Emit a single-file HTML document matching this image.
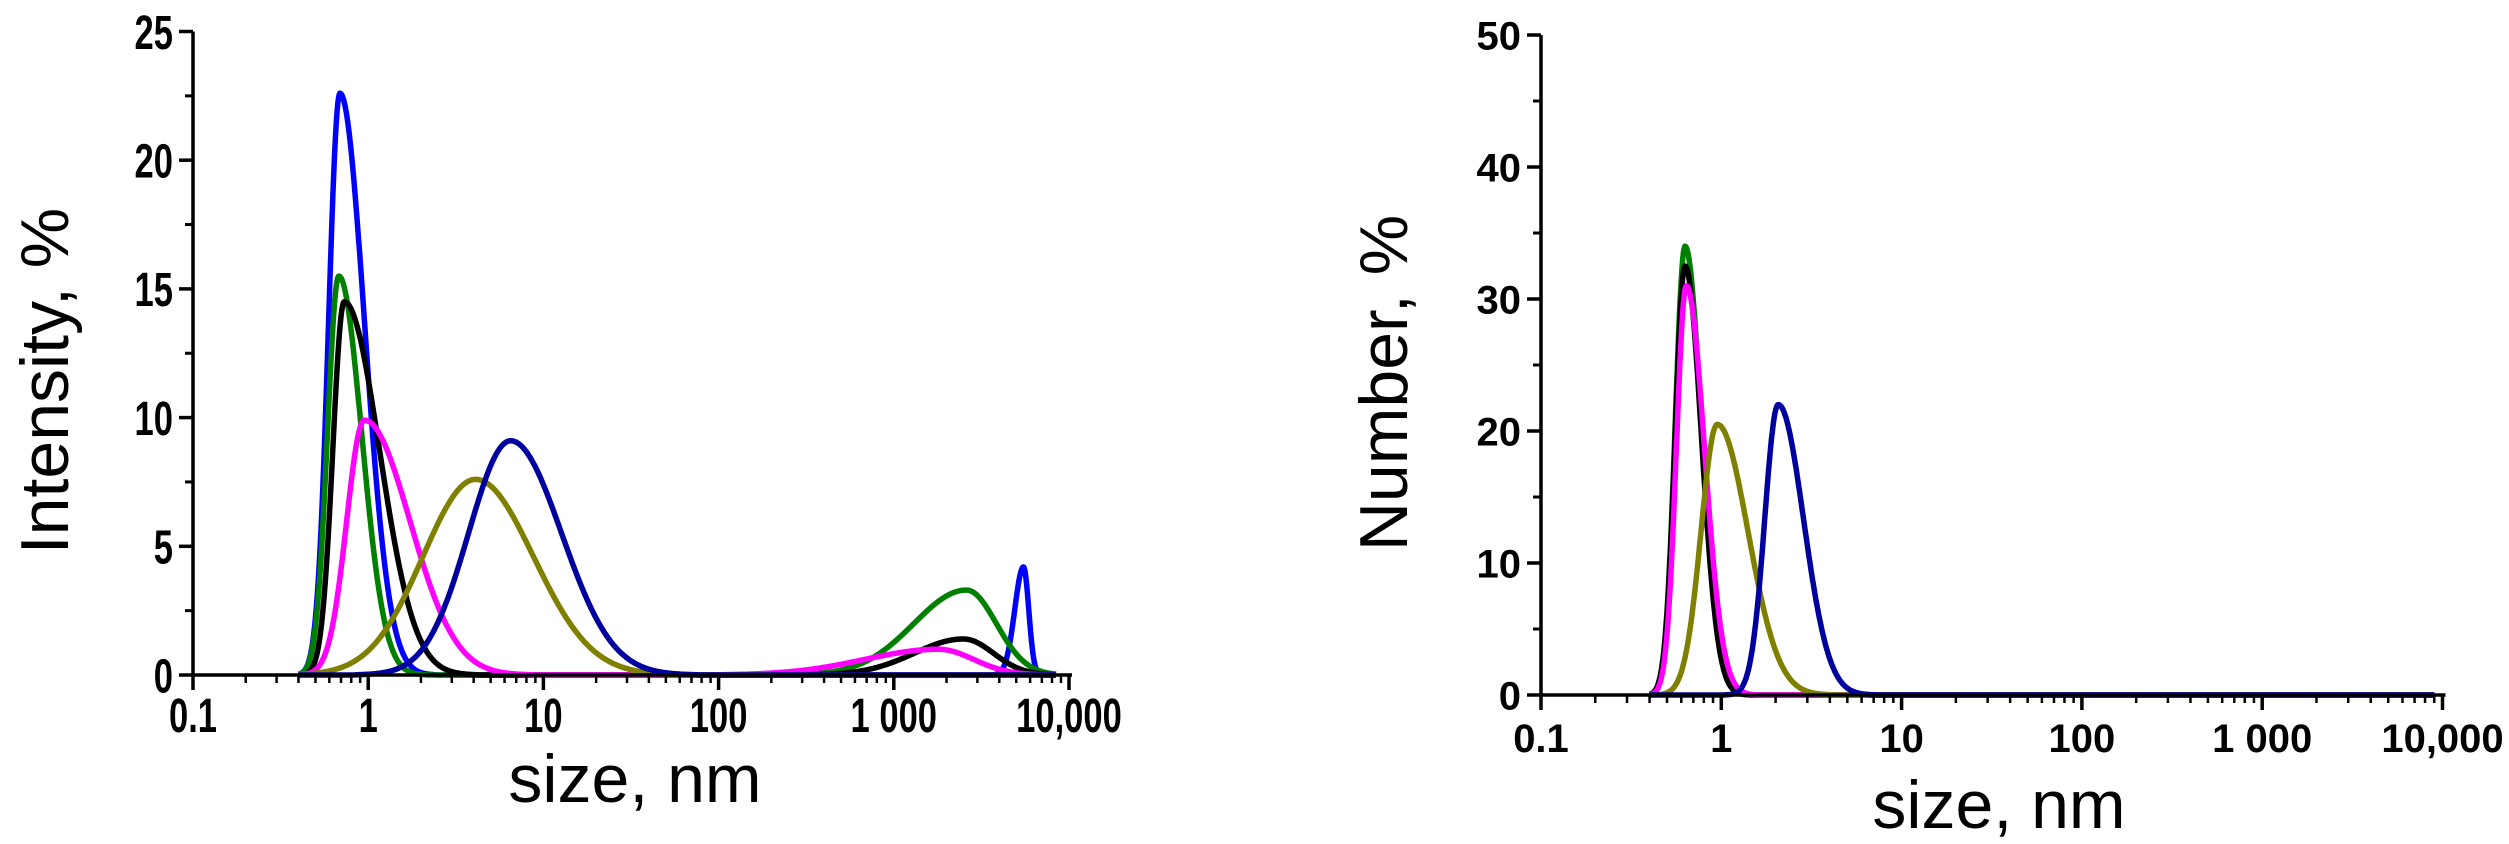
<!DOCTYPE html>
<html><head><meta charset="utf-8">
<style>
html,body{margin:0;padding:0;background:#fff;}
svg{display:block;}
text{font-family:"Liberation Sans",Arial,sans-serif;fill:#000;}
</style></head>
<body>
<svg id="chart" width="2509" height="844" viewBox="0 0 2509 844" xmlns="http://www.w3.org/2000/svg">
<g id="left"></g>
<g id="right"></g>
</svg>
<script>
// ----- data: left (Intensity) -----
const xTickValues = [0.1, 1, 10, 100, 1000, 10000];
const xTickLabels = ["0.1", "1", "10", "100", "1 000", "10,000"];
const leftYTicks = [0, 5, 10, 15, 20, 25];
const rightYTicks = [0, 10, 20, 30, 40, 50];
const seriesColors = ["#0000ff", "#008000", "#000000", "#ff00ff", "#808000", "#00009f"];
const seriesNames = ["blue", "green", "black", "magenta", "olive", "navy"];
// peak centres (nm), heights (%), left/right log10 widths; one row per series, peaks per row
const leftCenters = [[0.69, 5500], [0.68, 2600], [0.73, 2500], [0.95, 1800], [4.1], [6.5]];
const leftHeights = [[22.6, 4.2], [15.5, 3.3], [14.5, 1.4], [9.9, 1.0], [7.6], [9.1]];
const leftSigL = [[0.065, 0.05], [0.065, 0.3], [0.065, 0.28], [0.1, 0.42], [0.3], [0.24]];
const leftSigR = [[0.14, 0.03], [0.13, 0.17], [0.2, 0.17], [0.26, 0.2], [0.33], [0.29]];
// ----- data: right (Number) -----
const rightCenters = [[0.63], [0.63], [0.63], [0.64], [0.95], [2.07]];
const rightHeights = [[0], [34], [32.5], [31], [20.5], [22]];
const rightSigL = [[0.055], [0.055], [0.055], [0.055], [0.09], [0.075]];
const rightSigR = [[0.09], [0.09], [0.09], [0.1], [0.17], [0.14]];

const NS = "http://www.w3.org/2000/svg";
function mk(parent, tag, attrs, txt) {
  const e = document.createElementNS(NS, tag);
  for (const k in attrs) e.setAttribute(k, attrs[k]);
  if (txt !== undefined) e.textContent = txt;
  parent.appendChild(e);
  return e;
}

function drawChart(g, cfg) {
  const xs = v => cfg.x0 + (Math.log10(v) + 1) * cfg.dec;
  const ys = v => cfg.y0 - v * cfg.py;
  for (let s = 0; s < seriesColors.length; s++) {
    const cs = cfg.centers[s], hs = cfg.heights[s];
    if (hs.every(h => h === 0)) continue;
    let d = "";
    for (let lx = Math.log10(0.4); lx <= Math.log10(cfg.xEnd); lx += 0.004) {
      let v = 0;
      for (let p = 0; p < cs.length; p++) {
        const dl = lx - Math.log10(cs[p]);
        const sg = dl < 0 ? cfg.sl[s][p] : cfg.sr[s][p];
        v += hs[p] * Math.exp(-0.5 * (dl / sg) * (dl / sg));
      }
      if (v < 0.01) v = 0;
      d += (d ? "L" : "M") + xs(Math.pow(10, lx)).toFixed(1) + "," + ys(v).toFixed(1);
    }
    const path = mk(g, "path", {d: d, fill: "none", stroke: seriesColors[s], "stroke-width": 5.5, "stroke-linejoin": "round"});
    
    
  }
  const xEndPx = xs(10000) + 3;
  const topPx = ys(cfg.yTicks[cfg.yTicks.length - 1]);
  const ax = mk(g, "path", {d: `M${cfg.x0},${topPx}V${cfg.y0}H${xEndPx}`, fill: "none", stroke: "#000", "stroke-width": 3.5});
  
  
  for (let i = 0; i < cfg.yTicks.length; i++) {
    const v = cfg.yTicks[i];
    mk(g, "line", {x1: cfg.x0 - 14, x2: cfg.x0, y1: ys(v), y2: ys(v), stroke: "#000", "stroke-width": 3.5});
    if (i < cfg.yTicks.length - 1) {
      const mv = (v + cfg.yTicks[i + 1]) / 2;
      mk(g, "line", {x1: cfg.x0 - 8, x2: cfg.x0, y1: ys(mv), y2: ys(mv), stroke: "#000", "stroke-width": 3});
    }
    const t = mk(g, "text", {x: cfg.x0 - 20, y: ys(v) + cfg.tickFont * 0.36, "text-anchor": "end", "font-size": cfg.tickFont, "font-weight": "bold",
      transform: `translate(${(cfg.x0 - 20) * (1 - cfg.sx)},0) scale(${cfg.sx},1)`}, String(v));
    
    
  }
  for (let i = 0; i < xTickValues.length; i++) {
    const v = xTickValues[i];
    mk(g, "line", {x1: xs(v), x2: xs(v), y1: cfg.y0, y2: cfg.y0 + 15, stroke: "#000", "stroke-width": 3.5});
    if (i < xTickValues.length - 1) {
      for (let m = 2; m <= 9; m++) {
        const mx = xs(v * m);
        mk(g, "line", {x1: mx, x2: mx, y1: cfg.y0, y2: cfg.y0 + 8, stroke: "#000", "stroke-width": 2.5});
      }
    }
    const t = mk(g, "text", {x: xs(v), y: cfg.xLabY, "text-anchor": "middle", "font-size": cfg.tickFont, "font-weight": "bold",
      transform: `translate(${xs(v) * (1 - cfg.sx)},0) scale(${cfg.sx},1)`}, xTickLabels[i]);
    
    
  }
  const xt = mk(g, "text", {x: cfg.xTitleX, y: cfg.xTitleY, "text-anchor": "middle", "font-size": 68}, "size, nm");
  
  
  const yt = mk(g, "text", {x: 0, y: 0, "text-anchor": "middle", "font-size": 68,
    transform: `translate(${cfg.yTitleX},${cfg.yTitleY}) rotate(-90)`}, cfg.yTitle);
  
  
}

drawChart(document.getElementById("left"), {
  prefix: "intensity", x0: 193, dec: 175.2, y0: 675, py: 25.74, xEnd: 8500,
  centers: leftCenters, heights: leftHeights, sl: leftSigL, sr: leftSigR,
  yTicks: leftYTicks, tickFont: 48, sx: 0.72, xLabY: 732,
  xTitleX: 635, xTitleY: 802, yTitle: "Intensity, %", yTitleX: 68, yTitleY: 381
});
drawChart(document.getElementById("right"), {
  prefix: "number", x0: 1541, dec: 180.3, y0: 695, py: 13.2, xEnd: 9000,
  centers: rightCenters, heights: rightHeights, sl: rightSigL, sr: rightSigR,
  yTicks: rightYTicks, tickFont: 40, sx: 1, xLabY: 752,
  xTitleX: 1999, xTitleY: 828, yTitle: "Number, %", yTitleX: 1407, yTitleY: 383
});
</script>
</body></html>
